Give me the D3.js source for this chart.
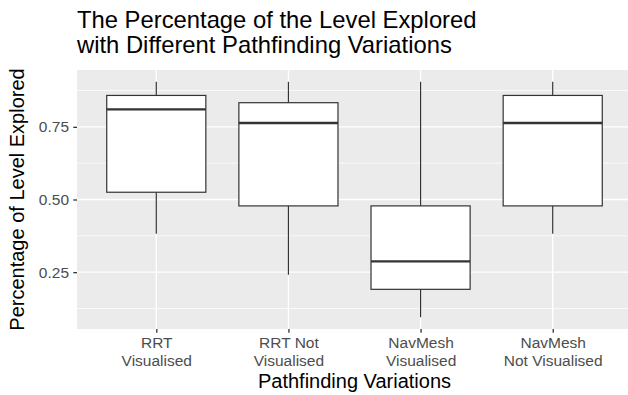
<!DOCTYPE html>
<html>
<head>
<meta charset="utf-8">
<script src="https://cdn.jsdelivr.net/npm/d3@7"></script>
<style>
  body { margin: 0; background: #fff; }
  svg { display: block; font-family: "Liberation Sans", Arial, sans-serif; }
</style>
</head>
<body>
<div id="chart"></div>
<script>
// Data
const categories = ["RRT\nVisualised", "RRT Not\nVisualised", "NavMesh\nVisualised", "NavMesh\nNot Visualised"];
const whiskerLow = [0.382, 0.241, 0.095, 0.382];
const q1 = [0.525, 0.478, 0.191, 0.478];
const medians = [0.810, 0.763, 0.287, 0.763];
const q3 = [0.858, 0.833, 0.478, 0.858];
const whiskerHigh = [0.905, 0.905, 0.905, 0.905];
const yTicks = [0.25, 0.50, 0.75];
const yMinorTicks = [0.125, 0.375, 0.625, 0.875];

const boxes = categories.map((c, i) => ({
  cat: c, lo: whiskerLow[i], q1: q1[i], med: medians[i], q3: q3[i], hi: whiskerHigh[i]
}));

const W = 628, H = 395;
const margin = { top: 70, right: -4, bottom: 66, left: 77 };
const width = W - margin.left - margin.right,
  height = H - margin.top - margin.bottom;

const svg = d3.select("#chart").append("svg")
  .attr("width", W)
  .attr("height", H);

const g = svg.append("g")
  .attr("transform", `translate(${margin.left},${margin.top})`);

// Scales (ggplot style expansion)
const x = d3.scalePoint()
  .domain(categories)
  .range([0, width])
  .padding(0.6);
const step = x.step();

const lo = d3.min(whiskerLow), hi = d3.max(whiskerHigh);
const pad = (hi - lo) * 0.05;
const y = d3.scaleLinear()
  .domain([lo - pad, hi + pad])
  .range([height, 0]);

// Panel background
g.append("rect")
  .attr("width", width)
  .attr("height", height)
  .attr("fill", "#EBEBEB");

// Grid lines
g.selectAll(".minor")
  .data(yMinorTicks)
  .join("line")
  .attr("x1", 0).attr("x2", width)
  .attr("y1", d => y(d)).attr("y2", d => y(d))
  .attr("stroke", "#fff").attr("stroke-width", 0.7);

g.selectAll(".major-y")
  .data(yTicks)
  .join("line")
  .attr("x1", 0).attr("x2", width)
  .attr("y1", d => y(d)).attr("y2", d => y(d))
  .attr("stroke", "#fff").attr("stroke-width", 1.4);

g.selectAll(".major-x")
  .data(categories)
  .join("line")
  .attr("x1", d => x(d)).attr("x2", d => x(d))
  .attr("y1", 0).attr("y2", height)
  .attr("stroke", "#fff").attr("stroke-width", 1.4);

// Boxes
const bw = step * 0.75;
const bg = g.append("g")
  .selectAll("g")
  .data(boxes)
  .join("g");

bg.append("line")
  .attr("x1", d => x(d.cat)).attr("x2", d => x(d.cat))
  .attr("y1", d => y(d.hi)).attr("y2", d => y(d.q3))
  .attr("stroke", "#333").attr("stroke-width", 1.2);

bg.append("line")
  .attr("x1", d => x(d.cat)).attr("x2", d => x(d.cat))
  .attr("y1", d => y(d.q1)).attr("y2", d => y(d.lo))
  .attr("stroke", "#333").attr("stroke-width", 1.2);

bg.append("rect")
  .attr("x", d => x(d.cat) - bw / 2)
  .attr("width", bw)
  .attr("y", d => y(d.q3))
  .attr("height", d => y(d.q1) - y(d.q3))
  .attr("fill", "#fff")
  .attr("stroke", "#333")
  .attr("stroke-width", 1.2);

bg.append("line")
  .attr("x1", d => x(d.cat) - bw / 2).attr("x2", d => x(d.cat) + bw / 2)
  .attr("y1", d => y(d.med)).attr("y2", d => y(d.med))
  .attr("stroke", "#333").attr("stroke-width", 2.4);

// Axes
const yAxis = g.append("g")
  .call(d3.axisLeft(y).tickValues(yTicks).tickFormat(d3.format(".2f")).tickSize(3.7).tickPadding(4.3));
yAxis.select(".domain").remove();
yAxis.selectAll(".tick line").attr("stroke", "#333").attr("stroke-width", 1.3);
yAxis.selectAll(".tick text")
  .attr("fill", "#4D4D4D")
  .style("font-size", "15.5px");

const xAxis = g.append("g")
  .attr("transform", `translate(0,${height})`)
  .call(d3.axisBottom(x).tickSize(3.7).tickFormat(""));
xAxis.select(".domain").remove();
xAxis.selectAll(".tick line").attr("stroke", "#333").attr("stroke-width", 1.3);
xAxis.selectAll(".tick").each(function(d) {
  const t = d3.select(this).append("text")
    .attr("fill", "#4D4D4D")
    .attr("text-anchor", "middle")
    .style("font-size", "15.5px");
  d.split("\n").forEach((line, i) => {
    t.append("tspan")
      .attr("x", 0)
      .attr("y", 19 + i * 18)
      .text(line);
  });
});

// Axis titles
svg.append("text")
  .attr("x", margin.left + width / 2)
  .attr("y", 388)
  .attr("text-anchor", "middle")
  .style("font-size", "20px")
  .attr("fill", "#000")
  .text("Pathfinding Variations");

svg.append("text")
  .attr("transform", "rotate(-90)")
  .attr("x", -(margin.top + height / 2))
  .attr("y", 24)
  .attr("text-anchor", "middle")
  .style("font-size", "20px")
  .attr("fill", "#000")
  .text("Percentage of Level Explored");

// Title
const title = svg.append("text")
  .attr("x", margin.left)
  .style("font-size", "23.8px")
  .attr("fill", "#000");
["The Percentage of the Level Explored", "with Different Pathfinding Variations"].forEach((line, i) => {
  title.append("tspan")
    .attr("x", margin.left)
    .attr("y", 28 + i * 25)
    .text(line);
});
</script>
</body>
</html>
